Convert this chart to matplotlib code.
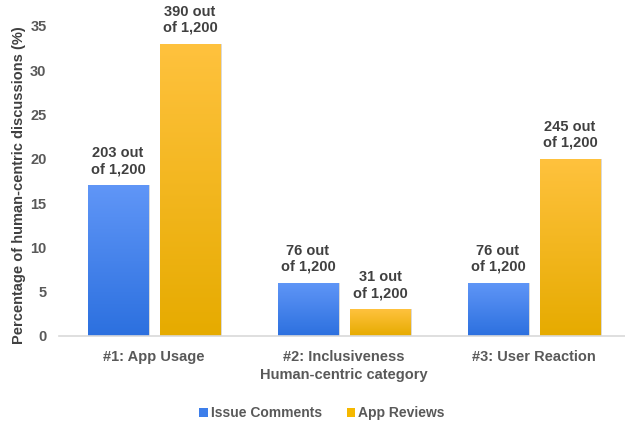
import numpy as np
import matplotlib
matplotlib.use('Agg')
import matplotlib.pyplot as plt
from matplotlib.colors import LinearSegmentedColormap
from matplotlib.patches import Patch

categories = ['#1: App Usage', '#2: Inclusiveness', '#3: User Reaction']
issue_comments = [17, 6, 6]
app_reviews = [33, 3, 20]
issue_labels = ['203 out\nof 1,200', '76 out\nof 1,200', '76 out\nof 1,200']
review_labels = ['390 out\nof 1,200', '31 out\nof 1,200', '245 out\nof 1,200']

plt.rcParams['font.family'] = ['Liberation Sans', 'DejaVu Sans']

BLUE_TOP, BLUE_BOT = '#6096F7', '#2C70DF'
GOLD_TOP, GOLD_BOT = '#FFC23E', '#E6AB00'
TEXT = '#595959'


def gradient_bars(ax, bars, top, bottom):
    cmap = LinearSegmentedColormap.from_list('g', [bottom, top])
    grad = np.linspace(0, 1, 256).reshape(-1, 1)
    for b in bars:
        x, y = b.get_x(), b.get_y()
        w, h = b.get_width(), b.get_height()
        # soft shadow to the right
        ax.bar(x + w / 2 + 0.012, h, width=w, bottom=y, color='#d9d9d9',
               zorder=1, linewidth=0)
        im = ax.imshow(grad, cmap=cmap, aspect='auto', origin='lower',
                       extent=[x, x + w, y, y + h], zorder=2)
        im.set_clip_path(b)
        b.set_facecolor('none')


fig = plt.figure(figsize=(6.25, 4.26), dpi=100)
ax = fig.add_axes([0.0944, 0.2113, 0.912, 0.7277])

x = np.arange(len(categories))
w = 0.316
off = 0.19
b1 = ax.bar(x - off, issue_comments, width=w, zorder=3, linewidth=0)
b2 = ax.bar(x + off, app_reviews, width=w, zorder=3, linewidth=0)
gradient_bars(ax, b1, BLUE_TOP, BLUE_BOT)
gradient_bars(ax, b2, GOLD_TOP, GOLD_BOT)

for xi, v, lab in zip(x - off, issue_comments, issue_labels):
    ax.text(xi, v + 1.0, lab, ha='center', va='bottom', fontsize=10.5,
            fontweight='bold', color='#404040', linespacing=1.2)
for xi, v, lab in zip(x + off, app_reviews, review_labels):
    ax.text(xi, v + 1.0, lab, ha='center', va='bottom', fontsize=10.5,
            fontweight='bold', color='#404040', linespacing=1.2)

ax.set_xlim(-0.5, 2.5)
ax.set_ylim(0, 35)
ax.set_yticks(range(0, 36, 5))
ax.set_xticks(x)
ax.set_xticklabels(categories)
for lab in ax.get_xticklabels() + ax.get_yticklabels():
    lab.set_fontweight('bold')
    lab.set_color(TEXT)
    lab.set_fontsize(10.5)
ax.tick_params(axis='both', length=0)
ax.tick_params(axis='x', pad=10)
ax.tick_params(axis='y', pad=9)

for s in ['top', 'right', 'left']:
    ax.spines[s].set_visible(False)
ax.spines['bottom'].set_color('#d9d9d9')
ax.spines['bottom'].set_linewidth(1.2)

ax.set_xlabel('Human-centric category', fontsize=10.5, fontweight='bold',
              color=TEXT, labelpad=3)
fig.text(0.03, 0.565, 'Percentage of human-centric discussions (%)',
         rotation=90, ha='center', va='center', fontsize=10.5,
         fontweight='bold', color='#404040')

handles = [Patch(facecolor='#3D7EEA', edgecolor='none'),
           Patch(facecolor='#F5B800', edgecolor='none')]
fig.legend(handles, ['Issue Comments', 'App Reviews'], loc='center',
           bbox_to_anchor=(0.515, 0.03), ncol=2, frameon=False,
           handlelength=0.6, handleheight=0.6,
           handletextpad=0.2, columnspacing=1.8,
           prop={'weight': 'bold', 'size': 10})
for t in fig.legends[0].get_texts():
    t.set_color(TEXT)

plt.savefig('out.png', dpi=100)
